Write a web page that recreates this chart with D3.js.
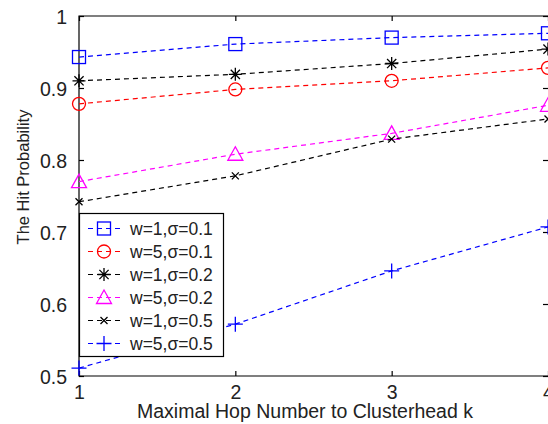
<!DOCTYPE html>
<html>
<head>
<meta charset="utf-8">
<script src="https://cdn.jsdelivr.net/npm/d3@7"></script>
<style>
  body { margin: 0; background: #fff; }
  svg { display: block; font-family: "Liberation Sans", Arial, sans-serif; }
</style>
</head>
<body>
<svg id="chart" width="548" height="424"></svg>
<script>
// hop number k
var hops = [1, 2, 3, 4];

// hit probability per setting
var w1s01 = [0.943, 0.961, 0.970, 0.976];
var w5s01 = [0.878, 0.898, 0.910, 0.928];
var w1s02 = [0.910, 0.919, 0.934, 0.954];
var w5s02 = [0.770, 0.808, 0.837, 0.876];
var w1s05 = [0.742, 0.778, 0.829, 0.857];
var w5s05 = [0.511, 0.572, 0.646, 0.707];

var seriesNames = ["w=1,σ=0.1", "w=5,σ=0.1", "w=1,σ=0.2", "w=5,σ=0.2", "w=1,σ=0.5", "w=5,σ=0.5"];
var seriesValues = [w1s01, w5s01, w1s02, w5s02, w1s05, w5s05];
var seriesColors = ["#0000ff", "#ff0000", "#000000", "#ff00ff", "#000000", "#0000ff"];
var seriesMarkers = ["square", "circle", "star", "triangle", "cross", "plus"];

var yTicks = [0.5, 0.6, 0.7, 0.8, 0.9, 1];
var yTickLabels = ["0.5", "0.6", "0.7", "0.8", "0.9", "1"];

var svg = d3.select("#chart");

// plot box
var plotLeft = 79, plotRight = 548, plotTop = 16, plotBottom = 376;

var x = d3.scaleLinear().domain([1, 4]).range([plotLeft, plotRight]);
var y = d3.scaleLinear().domain([0.5, 1]).range([plotBottom, plotTop]);

// frame
svg.append("path")
    .attr("d", "M" + plotRight + "," + plotTop + "H" + plotLeft + "V" + plotBottom + "H" + plotRight)
    .attr("fill", "none")
    .attr("stroke", "#000")
    .attr("stroke-width", 1.2);

// axes with inward ticks
var xAxis = svg.append("g")
    .attr("transform", "translate(0," + plotBottom + ")")
    .call(d3.axisBottom(x).tickValues(hops).tickFormat(d3.format("d")).tickSizeInner(-5).tickSizeOuter(0).tickPadding(9));
var xTop = svg.append("g")
    .attr("transform", "translate(0," + plotTop + ")")
    .call(d3.axisTop(x).tickValues(hops).tickFormat("").tickSizeInner(-5).tickSizeOuter(0));
var yAxis = svg.append("g")
    .attr("transform", "translate(" + plotLeft + ",0)")
    .call(d3.axisLeft(y).tickValues(yTicks).tickFormat(function(d, i) { return yTickLabels[i]; })
        .tickSizeInner(-5).tickSizeOuter(0).tickPadding(12));
var yRight = svg.append("g")
    .attr("transform", "translate(" + plotRight + ",0)")
    .call(d3.axisRight(y).tickValues(yTicks).tickFormat("").tickSizeInner(-5).tickSizeOuter(0));

[xAxis, xTop, yAxis, yRight].forEach(function(g) {
    g.select(".domain").remove();
    g.selectAll(".tick line").attr("stroke", "#000").attr("stroke-width", 1.2);
    g.selectAll("text")
        .attr("fill", "#222")
        .style("font-size", "19.5px")
        .style("font-family", "'Liberation Sans', Arial, sans-serif");
});
yAxis.selectAll("text").attr("dy", "0.36em");
xAxis.selectAll("text").attr("dy", "0.72em");

// axis titles
svg.append("text")
    .attr("x", 305)
    .attr("y", 418)
    .attr("text-anchor", "middle")
    .attr("fill", "#222")
    .style("font-size", "19.5px")
    .text("Maximal Hop Number to Clusterhead k");

svg.append("text")
    .attr("transform", "translate(29,177) rotate(-90)")
    .attr("text-anchor", "middle")
    .attr("fill", "#222")
    .style("font-size", "16.5px")
    .text("The Hit Probability");

// marker drawing
function drawMarker(g, type, color) {
    if (type == "square") {
        g.append("rect").attr("x", -6.5).attr("y", -6.5).attr("width", 13).attr("height", 13)
            .attr("fill", "none").attr("stroke", color).attr("stroke-width", 1.3);
    } else if (type == "circle") {
        g.append("circle").attr("r", 6.5)
            .attr("fill", "none").attr("stroke", color).attr("stroke-width", 1.3);
    } else if (type == "triangle") {
        g.append("path").attr("d", "M0,-7.5L7.5,6L-7.5,6Z")
            .attr("fill", "none").attr("stroke", color).attr("stroke-width", 1.3);
    } else if (type == "star") {
        g.append("path").attr("d", "M-6.5,0H6.5M0,-6.5V6.5M-4.6,-4.6L4.6,4.6M-4.6,4.6L4.6,-4.6")
            .attr("fill", "none").attr("stroke", color).attr("stroke-width", 1.3);
    } else if (type == "cross") {
        g.append("path").attr("d", "M-3.5,-3.5L3.5,3.5M-3.5,3.5L3.5,-3.5")
            .attr("fill", "none").attr("stroke", color).attr("stroke-width", 1.3);
    } else if (type == "plus") {
        g.append("path").attr("d", "M-7.5,0H7.5M0,-7.5V7.5")
            .attr("fill", "none").attr("stroke", color).attr("stroke-width", 1.3);
    }
}

var line = d3.line()
    .x(function(d) { return x(d.k); })
    .y(function(d) { return y(d.v); });

seriesValues.forEach(function(vals, si) {
    var pts = hops.map(function(k, i) { return { k: k, v: vals[i] }; });
    svg.append("path")
        .datum(pts)
        .attr("d", line)
        .attr("fill", "none")
        .attr("stroke", seriesColors[si])
        .attr("stroke-width", 1.2)
        .attr("stroke-dasharray", "5,4");
    pts.forEach(function(p) {
        var g = svg.append("g").attr("transform", "translate(" + x(p.k) + "," + y(p.v) + ")");
        drawMarker(g, seriesMarkers[si], seriesColors[si]);
    });
});

// legend
var legend = svg.append("g");
legend.append("rect")
    .attr("x", 79.5).attr("y", 213.5).attr("width", 144).attr("height", 143)
    .attr("fill", "#fff").attr("stroke", "#000").attr("stroke-width", 1.2);

seriesNames.forEach(function(name, i) {
    var ly = 228.5 + i * 23;
    legend.append("path")
        .attr("d", "M88," + ly + "H120")
        .attr("stroke", seriesColors[i])
        .attr("stroke-width", 1.2)
        .attr("stroke-dasharray", "5,4");
    var g = legend.append("g").attr("transform", "translate(104," + ly + ")");
    drawMarker(g, seriesMarkers[i], seriesColors[i]);
    legend.append("text")
        .attr("x", 130)
        .attr("y", ly)
        .attr("dy", "0.36em")
        .attr("fill", "#222")
        .style("font-size", "17.5px")
        .text(name);
});
</script>
</body>
</html>
